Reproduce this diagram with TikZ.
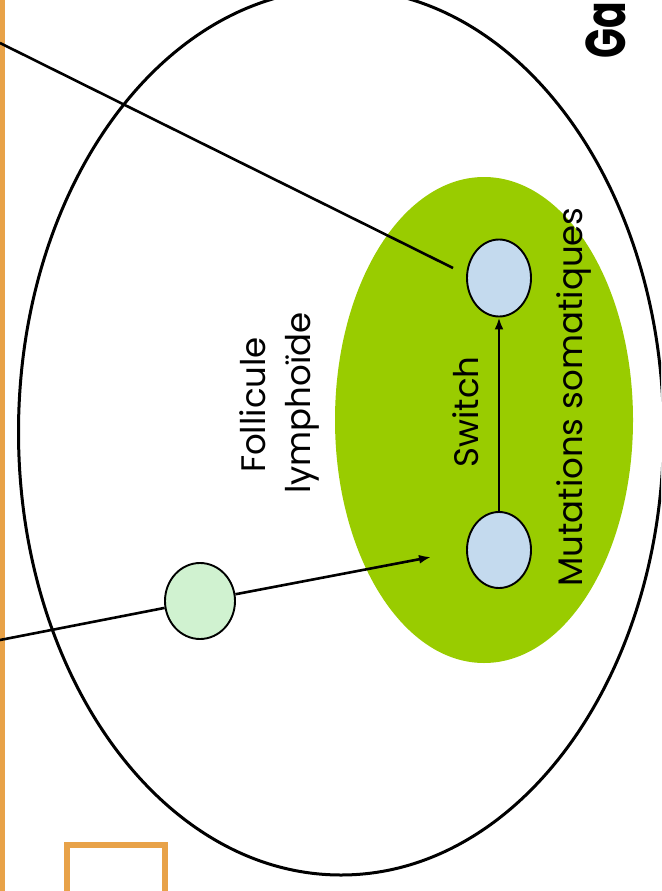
\documentclass[tikz,border=0pt]{standalone}
\usepackage{fontspec}
\setmainfont{Poppins}
\usetikzlibrary{arrows.meta,shapes.geometric}
\definecolor{leaf}{RGB}{153,204,0}
\definecolor{cellblue}{RGB}{196,218,238}
\definecolor{cellgreen}{RGB}{208,242,208}
\definecolor{orng}{RGB}{232,162,72}
\begin{document}
\begin{tikzpicture}[x=1pt,y=-1pt,
  bigell/.style={ellipse, draw=black, line width=3pt, inner sep=0pt},
  greenell/.style={ellipse, fill=leaf, inner sep=0pt},
  cell/.style={ellipse, draw=black, line width=1.9pt, inner sep=0pt, minimum width=64pt, minimum height=77pt},
  conn/.style={line width=2.6pt, black},
  lbl/.style={rotate=90, font=\fontsize{34}{40}\selectfont, inner sep=0pt},
]
\useasboundingbox (0,0) rectangle (661,891);
\clip (0,0) rectangle (661,891);
% orange frame pieces
\draw[orng, line width=5pt] (2.5,-5) -- (2.5,900);
\draw[orng, line width=6pt] (66.5,900) -- (66.5,844.5) -- (164.5,844.5) -- (164.5,900);
% lymph node
\node[bigell, minimum width=645pt, minimum height=886pt] (lymph) at (341,432) {};
\node[greenell, minimum width=298pt, minimum height=486pt] (gc) at (484,420) {};
% cells
\node[cell, fill=cellblue] (topcell) at (499,278) {};
\node[cell, fill=cellblue, minimum height=76pt] (botcell) at (499,550) {};
\node[ellipse, draw=black, line width=1.9pt, inner sep=0pt, fill=cellgreen, minimum width=70pt, minimum height=76pt] (naive) at (200,601) {};
% connectors
\coordinate (in1) at (0,43);
\coordinate (end1) at (453,268);
\coordinate (in2) at (0,640);
\coordinate (end2) at (431,557);
\draw[conn] (in1) -- (end1);
\draw[conn] (in2) -- (naive);
\draw[conn, -{Latex[length=12pt,width=9pt]}] (naive) -- (end2);
\draw[conn, -{Latex[length=12pt,width=9pt]}] (botcell.north) -- (topcell.south);
% labels
\node[lbl, anchor=base] (swl) at (478,412) {Switch};
\node[lbl, anchor=base] (mut) at (582,397) {Mutations somatiques};
\node[lbl, anchor=base] (fol1) at (265,405) {Follicule};
\node[lbl, anchor=base] (fol2) at (310,403) {lymphoïde};
\node[rotate=90, anchor=base east, inner sep=0pt, font=\fontsize{56}{60}\selectfont\bfseries] (ga) at (625,2) {\scalebox{0.7}[1]{Ga}};
\end{tikzpicture}
\end{document}
